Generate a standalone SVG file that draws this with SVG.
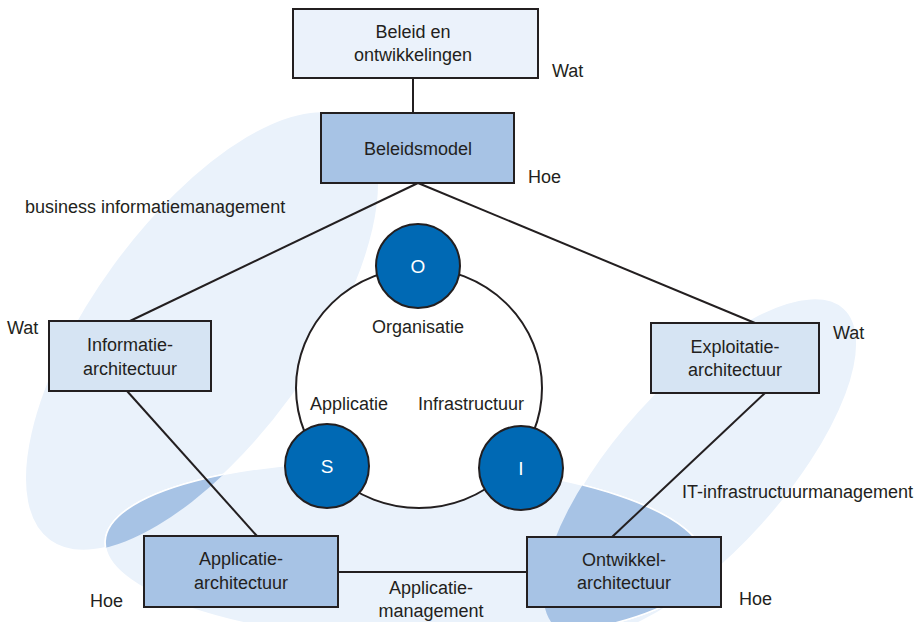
<svg xmlns="http://www.w3.org/2000/svg" width="921" height="622" viewBox="0 0 921 622">
<style>
.t{font-family:"Liberation Sans",Arial,sans-serif;font-size:18px;fill:#231f20}
.c{text-anchor:middle}
.w{fill:#ffffff;font-size:19px}
.box{stroke:#231f20;stroke-width:2}
.bl{fill:#d6e4f3}
.bd{fill:#a7c3e5}
.bp{fill:#ebf2fb}
.area{fill:#eaf2fb;stroke:#ffffff;stroke-width:1.5}
.lap{fill:#a7c3e5;stroke:#ffffff;stroke-width:1.5}
.ln{stroke:#231f20;stroke-width:2;fill:none}
.dot{fill:#0069b4;stroke:#231f20;stroke-width:2}
</style>
<defs>
<ellipse id="eL" cx="202" cy="331" rx="259" ry="111" transform="rotate(-54 202 331)"/>
<ellipse id="eB" cx="405" cy="552" rx="300" ry="90" transform="rotate(2 405 552)"/>
<ellipse id="eR" cx="700" cy="468" rx="215" ry="84" transform="rotate(-48 700 468)"/>
<clipPath id="cL"><use href="#eL"/></clipPath>
<clipPath id="cR"><use href="#eR"/></clipPath>
</defs>
<rect width="921" height="622" fill="#ffffff"/>
<g id="areas">
<use href="#eL" class="area"/>
<use href="#eR" class="area"/>
<use href="#eB" class="area"/>
<use href="#eB" class="lap" clip-path="url(#cL)"/>
<use href="#eB" class="lap" clip-path="url(#cR)"/>
<text class="t" x="25" y="213">business informatiemanagement</text>
<text class="t" x="682" y="498">IT-infrastructuurmanagement</text>
<text class="t c" x="431" y="594">Applicatie-</text>
<text class="t c" x="431" y="617">management</text>
</g>
<g id="connectors">
<line class="ln" x1="413" y1="78" x2="413" y2="113"/>
<line class="ln" x1="418" y1="183" x2="130" y2="321"/>
<line class="ln" x1="418" y1="183" x2="755" y2="323"/>
<line class="ln" x1="127" y1="391" x2="257" y2="536"/>
<line class="ln" x1="765" y1="393" x2="612" y2="537"/>
<line class="ln" x1="338" y1="572" x2="527" y2="572"/>
</g>
<g id="osi">
<ellipse cx="419" cy="388" rx="123" ry="120" fill="#ffffff" stroke="#231f20" stroke-width="2"/>
<text class="t c" x="418" y="333">Organisatie</text>
<text class="t" x="310" y="410">Applicatie</text>
<text class="t" x="418" y="410">Infrastructuur</text>
</g>
<g id="node-O"><circle class="dot" cx="418" cy="266" r="42"/><text class="t c w" x="418" y="273">O</text></g>
<g id="node-S"><circle class="dot" cx="327" cy="466" r="42"/><text class="t c w" x="327" y="473">S</text></g>
<g id="node-I"><circle class="dot" cx="521" cy="468" r="42"/><text class="t c w" x="521" y="475">I</text></g>
<g id="beleid">
<rect class="box bp" x="293" y="9" width="245" height="69"/>
<text class="t c" x="413" y="38">Beleid en</text>
<text class="t c" x="413" y="61">ontwikkelingen</text>
<text class="t" x="552" y="77">Wat</text>
</g>
<g id="beleidsmodel">
<rect class="box bd" x="321" y="113" width="193" height="70"/>
<text class="t c" x="418" y="155">Beleidsmodel</text>
<text class="t" x="528" y="183">Hoe</text>
</g>
<g id="informatie">
<rect class="box bl" x="49" y="321" width="162" height="70"/>
<text class="t c" x="130" y="351">Informatie-</text>
<text class="t c" x="130" y="375">architectuur</text>
<text class="t" x="7" y="334">Wat</text>
</g>
<g id="exploitatie">
<rect class="box bl" x="651" y="323" width="168" height="70"/>
<text class="t c" x="735" y="353">Exploitatie-</text>
<text class="t c" x="735" y="376">architectuur</text>
<text class="t" x="833" y="339">Wat</text>
</g>
<g id="applicatie">
<rect class="box bd" x="144" y="536" width="194" height="71"/>
<text class="t c" x="241" y="565">Applicatie-</text>
<text class="t c" x="241" y="589">architectuur</text>
<text class="t" x="90" y="607">Hoe</text>
</g>
<g id="ontwikkel">
<rect class="box bd" x="527" y="537" width="194" height="70"/>
<text class="t c" x="624" y="566">Ontwikkel-</text>
<text class="t c" x="624" y="589">architectuur</text>
<text class="t" x="739" y="605">Hoe</text>
</g>
</svg>
